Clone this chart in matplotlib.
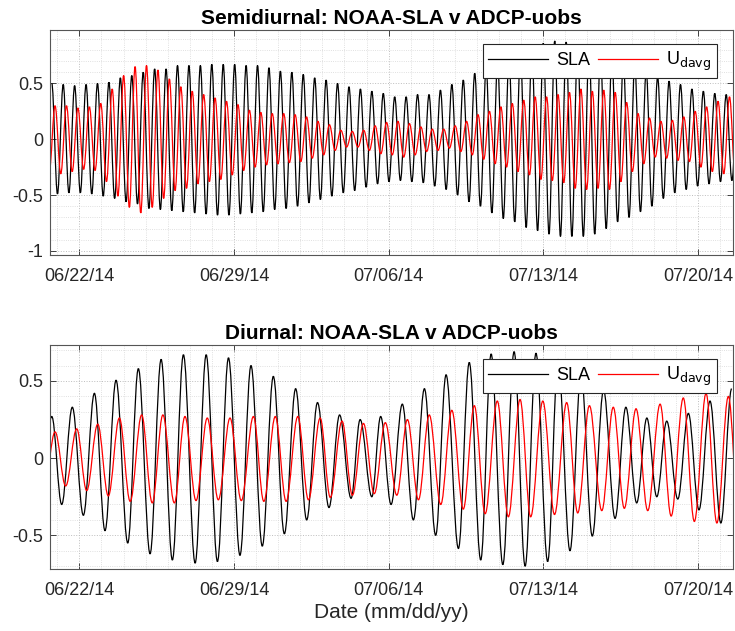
import numpy as np
import matplotlib
matplotlib.use("Agg")
import matplotlib.pyplot as plt
import matplotlib.dates as mdates
from matplotlib.path import Path
from matplotlib.patches import PathPatch
from matplotlib.lines import Line2D
from datetime import datetime

plt.rcParams['font.family'] = ['Liberation Sans', 'DejaVu Sans']

# ---------------- data ----------------
# time is in days since 06/22/14 00:00
t_origin = datetime(2014, 6, 22)
xlim_days = (-1.33, 29.59)

# Semidiurnal band: successive highs / lows, one every half M2 period
m2_half = 12.42 / 24.0 / 2.0
semi_sla_start = -1.25            # first high of SLA
semi_sla_highs = [0.50, 0.49, 0.48, 0.49, 0.50, 0.51, 0.55, 0.57, 0.60, 0.63, 0.63, 0.66, 0.66, 0.66, 0.67,
                  0.67, 0.67, 0.66, 0.66, 0.64, 0.61, 0.60, 0.58, 0.55, 0.53, 0.50, 0.47, 0.45, 0.43, 0.41,
                  0.38, 0.38, 0.40, 0.40, 0.44, 0.49, 0.53, 0.59, 0.63, 0.68, 0.73, 0.78, 0.82, 0.86, 0.88,
                  0.87, 0.85, 0.83, 0.79, 0.75, 0.70, 0.66, 0.61, 0.56, 0.52, 0.49, 0.45, 0.43, 0.41, 0.40,
                  0.40]
semi_sla_lows = [-0.49, -0.48, -0.48, -0.49, -0.51, -0.53, -0.56, -0.58, -0.62, -0.63, -0.64, -0.65, -0.66, -0.67,
                 -0.68, -0.68, -0.67, -0.66, -0.65, -0.63, -0.62, -0.60, -0.57, -0.54, -0.51, -0.48, -0.46, -0.43,
                 -0.40, -0.38,
                 -0.37, -0.38, -0.39, -0.42, -0.45, -0.50, -0.56, -0.60, -0.66, -0.71, -0.74, -0.79, -0.82, -0.85,
                 -0.87,
                 -0.87, -0.87, -0.85, -0.80, -0.74, -0.70, -0.65, -0.60, -0.53, -0.48, -0.45, -0.42, -0.40, -0.38,
                 -0.37]

semi_u_start = -1.36              # first low of U_davg
semi_u_lows = [-0.28, -0.31, -0.29, -0.27, -0.28, -0.38, -0.51, -0.61, -0.66, -0.61, -0.53, -0.46, -0.44, -0.40, -0.38,
               -0.36, -0.32, -0.28, -0.25, -0.23, -0.22, -0.21, -0.20, -0.17, -0.14, -0.10, -0.07, -0.07, -0.10,
               -0.13, -0.14,
               -0.16, -0.14, -0.11, -0.10, -0.08, -0.11, -0.14, -0.18, -0.22, -0.25, -0.29, -0.32, -0.36, -0.37,
               -0.39,
               -0.44, -0.45, -0.44, -0.45, -0.38, -0.29, -0.22, -0.16, -0.17, -0.19, -0.20, -0.25, -0.29, -0.31,
               -0.33]
semi_u_highs = [0.30, 0.30, 0.28, 0.29, 0.32, 0.45, 0.57, 0.65, 0.66, 0.62, 0.54, 0.47, 0.43, 0.40, 0.37,
                0.34, 0.31, 0.26, 0.24, 0.23, 0.23, 0.22, 0.20, 0.16, 0.13, 0.08, 0.07, 0.08, 0.12, 0.15,
                0.16, 0.14, 0.11, 0.09, 0.09, 0.12, 0.16, 0.22, 0.25, 0.29, 0.32, 0.35, 0.38, 0.38, 0.40,
                0.42, 0.45, 0.43, 0.44, 0.42, 0.33, 0.23, 0.19, 0.16, 0.17, 0.20, 0.25, 0.29, 0.34, 0.38]

# Diurnal band: times (days) and values of highs / lows
di_sla_high_t = [-1.25, -0.32, 0.68, 1.66, 2.67, 3.70, 4.71, 5.74, 6.75, 7.77, 8.78, 9.79, 10.78, 11.78, 12.71,
                 13.64, 14.62, 15.62, 16.60, 17.65, 18.64, 19.68, 20.67, 21.67, 22.71, 23.73, 24.74, 25.69,
                 26.59, 27.57, 28.55, 29.53]
di_sla_high_v = [0.27, 0.33, 0.42, 0.505, 0.58, 0.64, 0.67, 0.67, 0.65, 0.60, 0.53, 0.45, 0.36, 0.28, 0.25,
                 0.27, 0.35, 0.45, 0.54, 0.62, 0.675, 0.69, 0.68, 0.64, 0.55, 0.44, 0.33, 0.26, 0.24, 0.29,
                 0.37, 0.45]
di_sla_low_t = [-1.75, -0.80, 0.18, 1.16, 2.19, 3.20, 4.21, 5.24, 6.25, 7.27, 8.28, 9.28, 10.29, 11.30, 12.30,
                13.24, 14.11, 15.12, 16.13, 17.16, 18.17, 19.17, 20.18, 21.20, 22.21, 23.22, 24.25, 25.23,
                26.14, 27.09, 28.05, 29.04]
di_sla_low_v = [-0.25, -0.30, -0.37, -0.47, -0.55, -0.62, -0.66, -0.68, -0.67, -0.63, -0.57, -0.49, -0.40, -0.32,
                -0.26, -0.25, -0.30, -0.40, -0.50, -0.585, -0.66, -0.69, -0.70, -0.67, -0.60, -0.505, -0.39,
                -0.29, -0.25, -0.265, -0.335, -0.42]

di_u_high_t = [-1.10, -0.12, 0.83, 1.81, 2.82, 3.78, 4.78, 5.79, 6.82, 7.88, 8.87, 9.89, 10.90, 11.89, 12.86,
               13.85, 14.85, 15.84, 16.86, 17.88, 18.92, 19.95, 20.98, 22.06, 23.09, 24.17, 25.20, 26.29,
               27.34, 28.37, 29.38]
di_u_high_v = [0.17, 0.19, 0.22, 0.26, 0.28, 0.28, 0.27, 0.26, 0.26, 0.27, 0.27, 0.27, 0.26, 0.24, 0.225,
               0.23, 0.25, 0.28, 0.31, 0.34, 0.37, 0.38, 0.37, 0.36, 0.34, 0.33, 0.32, 0.35, 0.39, 0.42, 0.40]
di_u_low_t = [-1.58, -0.62, 0.33, 1.31, 2.30, 3.30, 4.30, 5.28, 6.29, 7.33, 8.35, 9.36, 10.37, 11.36, 12.36,
              13.35, 14.37, 15.35, 16.36, 17.38, 18.37, 19.42, 20.43, 21.51, 22.56, 23.65, 24.67, 25.73,
              26.79, 27.84, 28.86, 29.87]
di_u_low_v = [-0.17, -0.18, -0.21, -0.245, -0.28, -0.29, -0.29, -0.275, -0.27, -0.275, -0.28, -0.28, -0.27,
              -0.255, -0.24, -0.23, -0.24, -0.27, -0.30, -0.33, -0.36, -0.38, -0.38, -0.365, -0.355, -0.34,
              -0.325, -0.34, -0.375, -0.41, -0.42, -0.42]


# ---------------- helpers ----------------
def alternate(first, second, start, step):
    """Merge two lists of alternating extremes onto a regular half-period grid."""
    vals = []
    for i in range(max(len(first), len(second))):
        if i < len(first):
            vals.append(first[i])
        if i < len(second):
            vals.append(second[i])
    t = start + step * np.arange(len(vals))
    return t, np.array(vals)


def merge(t1, v1, t2, v2):
    t = np.concatenate([t1, t2])
    v = np.concatenate([v1, v2])
    order = np.argsort(t)
    return t[order], v[order]


def wave_patch(t, v, color):
    # smooth curve through the highs and lows (flat tangents at each extreme)
    x = mdates.date2num(t_origin) + np.asarray(t)
    verts = [(x[0], v[0])]
    codes = [Path.MOVETO]
    for i in range(1, len(x)):
        dx = x[i] - x[i - 1]
        verts += [(x[i - 1] + 0.364 * dx, v[i - 1]), (x[i] - 0.364 * dx, v[i]), (x[i], v[i])]
        codes += [Path.CURVE4] * 3
    return PathPatch(Path(verts, codes), fill=False, edgecolor=color, lw=0.9)


def style_axes(ax, ylim, yticks):
    x0 = mdates.date2num(t_origin)
    ax.set_xlim(x0 + xlim_days[0], x0 + xlim_days[1])
    ax.set_ylim(*ylim)
    ax.xaxis.set_major_locator(mdates.WeekdayLocator(byweekday=mdates.SU))
    ax.xaxis.set_minor_locator(mdates.DayLocator())
    ax.xaxis.set_major_formatter(mdates.DateFormatter('%m/%d/%y'))
    ax.set_yticks(yticks)
    ax.set_yticklabels([('%g' % y) for y in yticks])
    ax.yaxis.set_minor_locator(matplotlib.ticker.MultipleLocator(0.1))
    ax.grid(True, which='major', ls=':', color='#bdbdbd', lw=0.7)
    ax.grid(True, which='minor', ls=':', color='#d6d6d6', lw=0.6)
    ax.set_axisbelow(True)
    ax.tick_params(which='major', direction='in', length=4, width=0.6, top=True, right=True,
                   labelsize=13, colors='#262626')
    ax.tick_params(axis='x', which='major', pad=9)
    ax.tick_params(axis='y', which='major', pad=5)
    ax.tick_params(which='minor', length=0)
    for s in ax.spines.values():
        s.set_color('#555555')
        s.set_linewidth(0.8)


def add_legend(ax):
    handles = [Line2D([], [], color='k', lw=0.9), Line2D([], [], color='r', lw=0.9)]
    leg = ax.legend(handles, ['SLA', r'U$_{\mathrm{davg}}$'], ncol=2, loc='upper right',
                    bbox_to_anchor=(1 - 16.3 / 683, 1 - 14.6 / 225.3), borderaxespad=0,
                    fancybox=False, framealpha=1, edgecolor='#262626', fontsize=13,
                    handlelength=3.3, handletextpad=0.45, columnspacing=0.45, borderpad=0.3)
    leg.get_frame().set_linewidth(0.8)


# ---------------- figure ----------------
fig = plt.figure(figsize=(7.35, 6.31), dpi=100)
ax1 = fig.add_axes([50 / 735, 1 - 255 / 631, 683 / 735, 225.3 / 631])
ax2 = fig.add_axes([50 / 735, 1 - 569.3 / 631, 683 / 735, 224.6 / 631])

# semidiurnal
t, v = alternate(semi_sla_highs, semi_sla_lows, semi_sla_start, m2_half)
ax1.add_patch(wave_patch(t, v, 'k'))
t, v = alternate(semi_u_lows, semi_u_highs, semi_u_start, m2_half)
ax1.add_patch(wave_patch(t, v, 'r'))
style_axes(ax1, (-1.036, 0.98), [-1, -0.5, 0, 0.5])
ax1.set_title('Semidiurnal: NOAA-SLA v ADCP-uobs', fontsize=15, fontweight='bold', pad=4)
add_legend(ax1)

# diurnal
t, v = merge(di_sla_high_t, di_sla_high_v, di_sla_low_t, di_sla_low_v)
ax2.add_patch(wave_patch(t, v, 'k'))
t, v = merge(di_u_high_t, di_u_high_v, di_u_low_t, di_u_low_v)
ax2.add_patch(wave_patch(t, v, 'r'))
style_axes(ax2, (-0.72, 0.735), [-0.5, 0, 0.5])
ax2.set_title('Diurnal: NOAA-SLA v ADCP-uobs', fontsize=15, fontweight='bold', pad=4)
ax2.set_xlabel('Date (mm/dd/yy)', fontsize=15, color='#262626', labelpad=3)
add_legend(ax2)

fig.savefig('out.png', dpi=100)
